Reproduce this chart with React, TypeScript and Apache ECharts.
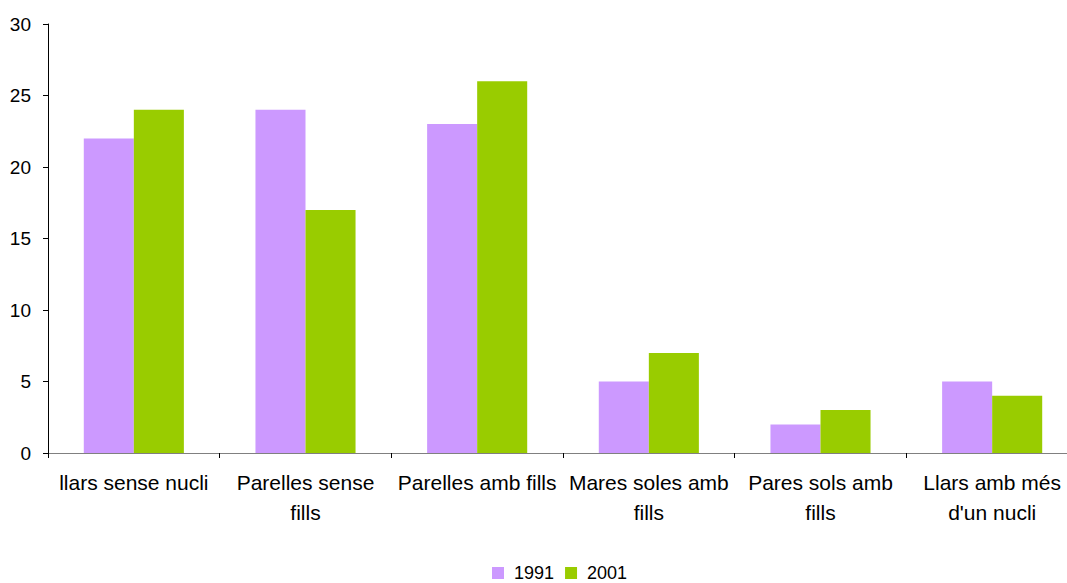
import React, { useEffect, useRef } from "react";
import * as echarts from "echarts";

const categories = [
  "llars sense nucli",
  "Parelles sense\nfills",
  "Parelles amb fills",
  "Mares soles amb\nfills",
  "Pares sols amb\nfills",
  "Llars amb més\nd'un nucli",
];
const values1991 = [22, 24, 23, 5, 2, 5];
const values2001 = [24, 17, 26, 7, 3, 4];
const yTicks = { min: 0, max: 30, interval: 5 };

export default function App() {
  const ref = useRef<HTMLDivElement>(null);
  useEffect(() => {
    const chart = echarts.init(ref.current!, null, { renderer: "svg" });
    const font = "Liberation Sans, Arial, sans-serif";
    chart.setOption({
      animation: false,
      textStyle: { fontFamily: font },
      grid: { left: 48, right: 0, top: 24, bottom: 130, containLabel: false },
      legend: {
        top: 564,
        left: 492,
        padding: 0,
        itemWidth: 12,
        itemHeight: 12,
        itemGap: 11,
        icon: "rect",
        textStyle: { fontSize: 18, lineHeight: 18, color: "#000", fontFamily: font, padding: [0, 0, 0, 5] },
        data: ["1991", "2001"],
      },
      xAxis: {
        type: "category",
        data: categories,
        axisLine: { lineStyle: { color: "#808080", width: 1 } },
        axisTick: { show: true, alignWithLabel: false, length: 5, lineStyle: { color: "#000" } },
        axisLabel: {
          interval: 0,
          color: "#000",
          fontSize: 21,
          fontFamily: font,
          lineHeight: 30,
          margin: 14,
        },
      },
      yAxis: {
        type: "value",
        min: yTicks.min,
        max: yTicks.max,
        interval: yTicks.interval,
        axisLine: { show: true, lineStyle: { color: "#000", width: 1 } },
        axisTick: { show: true, length: 5, lineStyle: { color: "#000" } },
        splitLine: { show: false },
        axisLabel: { color: "#000", fontSize: 19, fontFamily: font, margin: 17 },
      },
      series: [
        {
          name: "1991",
          type: "bar",
          data: values1991,
          itemStyle: { color: "#CC99FF" },
          barGap: "0%",
          barCategoryGap: "41.7%",
        },
        {
          name: "2001",
          type: "bar",
          data: values2001,
          itemStyle: { color: "#99CC00" },
          barGap: "0%",
          barCategoryGap: "41.7%",
        },
      ],
    });
    return () => chart.dispose();
  }, []);
  return (
    <div
      style={{
        position: "absolute",
        left: 0,
        top: 0,
        width: 1067,
        height: 583,
        overflow: "hidden",
        background: "#fff",
      }}
    >
      <div ref={ref} style={{ width: 1078, height: 583 }} />
    </div>
  );
}
